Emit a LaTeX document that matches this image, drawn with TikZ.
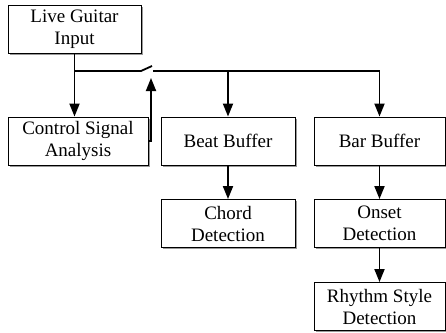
\documentclass[tikz,border=0pt]{standalone}
\usepackage{fontspec}
\setmainfont{Liberation Serif}
\usepackage{tikz}
\usetikzlibrary{arrows.meta, shadows}

\tikzset{
  block/.style={draw, line width=0.9pt, fill=white, align=center, inner sep=0pt,
    font=\fontsize{19}{22}\selectfont,
    drop shadow={shadow xshift=1.5pt, shadow yshift=-1.5pt, fill=black!40, opacity=1}},
  link/.style={line width=1.8pt},
}

\begin{document}
\begin{tikzpicture}[x=1pt, y=-1pt, >={Triangle[width=10pt,length=13pt]}]
        \useasboundingbox (0,0) rectangle (446,332);

        % Input
        \node[block, minimum width=133pt, minimum height=48pt] (live) at (74.5,29) {Live Guitar\\Input};

        % Level 1
        \node[block, minimum width=140pt, minimum height=48pt] (ctrl) at (78,141) {Control Signal\\Analysis};
        \node[block, minimum width=134pt, minimum height=48pt] (beat) at (228,141) {Beat Buffer};
        \node[block, minimum width=131pt, minimum height=48pt] (bar) at (379.5,141) {Bar Buffer};

        % Level 2
        \node[block, minimum width=134pt, minimum height=48pt] (chord) at (228,223.5) {Chord\\Detection};
        \node[block, minimum width=131pt, minimum height=48pt] (onset) at (379.5,223.5) {Onset\\Detection};

        % Level 3
        \node[block, minimum width=131pt, minimum height=48pt] (rhythm) at (379.5,306.5) {Rhythm Style\\Detection};

        % Switch
        \coordinate (swA) at (141,71);
        \coordinate (swB) at (152,66);
        \coordinate (swC) at (153,71);
        \coordinate (swT) at (151,78);

        % Edges
        \draw[link, ->] (live) -- (live.south |- ctrl.north);
        \draw[link] (live.south |- swA) -- (swA) -- (swB);
        \draw[link] (swC) -- (bar.north |- swC);
        \draw[link, ->] (beat.north |- swC) -- (beat);
        \draw[link, ->] (bar.north |- swC) -- (bar);
        \draw[link, ->] (ctrl.east) -| (swT);
        \draw[link, ->] (beat) -- (chord);
        \draw[link, ->] (bar) -- (onset);
        \draw[link, ->] (onset) -- (rhythm);
    \end{tikzpicture}
\end{document}
